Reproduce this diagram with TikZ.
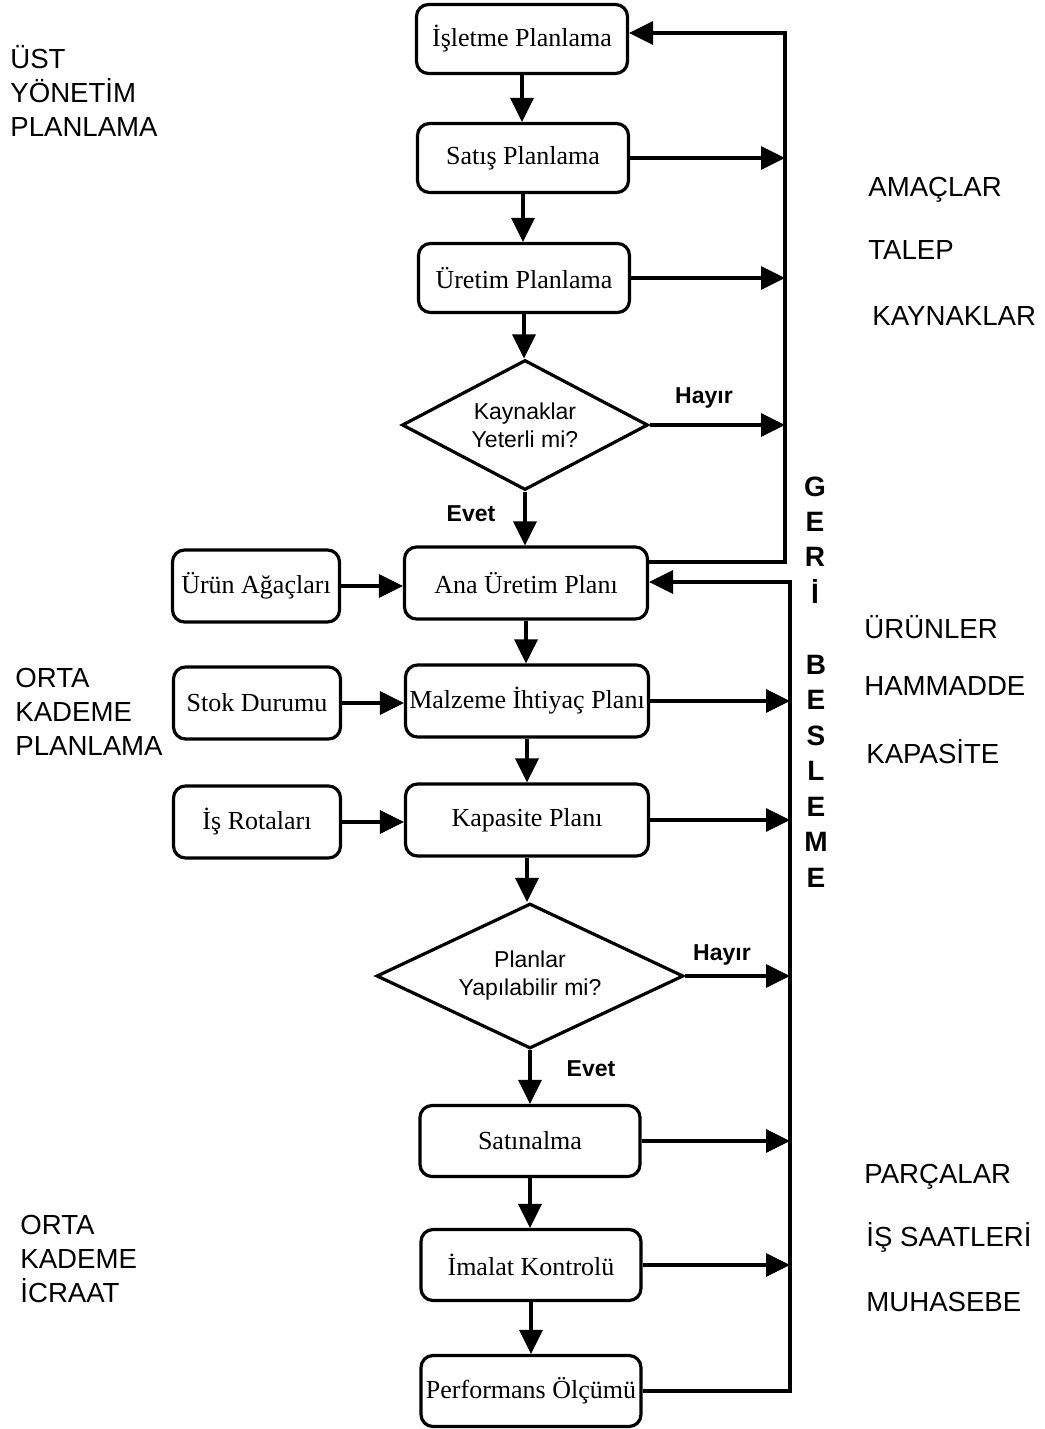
\documentclass[tikz,border=0pt]{standalone}
\usepackage{fontspec}
\setmainfont{Liberation Serif}
\setsansfont{Liberation Sans}
\usetikzlibrary{shapes.geometric,arrows.meta}

\tikzset{
  plan/.style={draw, line width=1.6pt, rounded corners=6pt, inner sep=1pt,
    font=\fontsize{13}{15}\selectfont},
  ust/.style={plan, minimum width=105.5pt, minimum height=34.5pt},
  orta/.style={plan, minimum width=121.5pt, minimum height=36pt},
  alt/.style={plan, minimum width=110pt, minimum height=35.5pt},
  girdi/.style={plan, minimum width=83.5pt, minimum height=36pt},
  karar/.style={draw, diamond, line width=1.6pt, inner sep=0pt, align=center,
    font=\sffamily\fontsize{11.5}{14}\selectfont},
  ok/.style={line width=1.6pt, -{Triangle[length=12pt,width=11.5pt]}},
  etiket/.style={font=\sffamily\bfseries\fontsize{11.5}{14}\selectfont},
  yan/.style={font=\sffamily\fontsize{13.8}{17}\selectfont, anchor=west,
    inner sep=0pt, align=left},
  dikey/.style={font=\sffamily\bfseries\fontsize{14}{16}\selectfont, inner sep=0pt},
}

\begin{document}
\begin{tikzpicture}[x=0.5pt,y=-0.5pt]
\useasboundingbox (0,0) rectangle (1044,1429);

% ana akis
\node[ust] (isletme) at (522,39) {İşletme Planlama};
\node[ust] (satis) at (523,158) {Satış Planlama};
\node[ust] (uretim) at (524,278) {Üretim Planlama};
\node[karar, aspect=1.9, minimum width=123pt, minimum height=65pt] (kaynak) at (525,425) {Kaynaklar\\Yeterli mi?};
\node[orta] (ana) at (526,583) {Ana Üretim Planı};
\node[orta] (malzeme) at (527,701) {Malzeme İhtiyaç Planı};
\node[orta] (kapasite) at (527,820) {Kapasite Planı};
\node[karar, aspect=2.1, minimum width=153.5pt, minimum height=72.5pt] (yapilabilir) at (530,976) {Planlar\\Yapılabilir mi?};
\node[alt] (satin) at (530,1141) {Satınalma};
\node[alt] (imalat) at (531,1265) {İmalat Kontrolü};
\node[alt] (perf) at (531,1391) {Performans Ölçümü};

% girdiler
\node[girdi] (agac) at (256,586) {Ürün Ağaçları};
\node[girdi] (stok) at (257,703) {Stok Durumu};
\node[girdi] (rota) at (257,822) {İş Rotaları};

% geri besleme hatlari
\coordinate (ustuc) at (785,33);
\coordinate (ustdip) at (785,562);
\coordinate (altuc) at (790,582);

% dikey oklar
\draw[ok] (isletme.south) -- (isletme.south |- satis.north);
\draw[ok] (satis.south) -- (satis.south |- uretim.north);
\draw[ok] (uretim.south) -- (uretim.south |- kaynak.north);
\draw[ok] (kaynak.south) -- (kaynak.south |- ana.north);
\draw[ok] (ana.south) -- (ana.south |- malzeme.north);
\draw[ok] (malzeme.south) -- (malzeme.south |- kapasite.north);
\draw[ok] (kapasite.south) -- (kapasite.south |- yapilabilir.north);
\draw[ok] (yapilabilir.south) -- (yapilabilir.south |- satin.north);
\draw[ok] (satin.south) -- (satin.south |- imalat.north);
\draw[ok] (imalat.south) -- (imalat.south |- perf.north);

% girdi oklari
\draw[ok] (agac.east) -- (agac.east -| ana.west);
\draw[ok] (stok.east) -- (stok.east -| malzeme.west);
\draw[ok] (rota.east) -- (rota.east -| kapasite.west);

% ust dongu
\draw[ok] (satis.east) -- (satis.east -| ustuc);
\draw[ok] (uretim.east) -- (uretim.east -| ustuc);
\draw[ok] (kaynak.east) -- (kaynak.east -| ustuc);
\draw[ok] (ana.east |- ustdip) -- (ustdip) -- (ustuc) -- (isletme.east |- ustuc);

% alt dongu
\draw[ok] (malzeme.east) -- (malzeme.east -| altuc);
\draw[ok] (kapasite.east) -- (kapasite.east -| altuc);
\draw[ok] (yapilabilir.east) -- (yapilabilir.east -| altuc);
\draw[ok] (satin.east) -- (satin.east -| altuc);
\draw[ok] (imalat.east) -- (imalat.east -| altuc);
\draw[ok] (perf.east) -- (perf.east -| altuc) -- (altuc) -- (ana.east |- altuc);

% karar etiketleri
\node[etiket] (hayir1) at (704,398) {Hayır};
\node[etiket] (evet1) at (471,514) {Evet};
\node[etiket] (hayir2) at (722,955) {Hayır};
\node[etiket] (evet2) at (591,1069) {Evet};

% kademeler
\node[yan] (kademe1) at (10,91) {ÜST\\YÖNETİM\\PLANLAMA};
\node[yan] (kademe2) at (15,712) {ORTA\\KADEME\\PLANLAMA};
\node[yan] (kademe3) at (20,1259) {ORTA\\KADEME\\İCRAAT};

% sag etiketler
\node[yan] (amac) at (868,190) {AMAÇLAR};
\node[yan] (talep) at (868,250) {TALEP};
\node[yan] (kaynaklar) at (872,316) {KAYNAKLAR};
\node[yan] (urunler) at (864,627) {ÜRÜNLER};
\node[yan] (hammadde) at (864,686) {HAMMADDE};
\node[yan] (kapasiteler) at (866,752) {KAPASİTE};
\node[yan] (parca) at (864,1177) {PARÇALAR};
\node[yan] (saat) at (866,1237) {İŞ SAATLERİ};
\node[yan] (muhasebe) at (866,1302) {MUHASEBE};

% geri besleme yazisi
\foreach \harf [count=\k] in {G,E,R,İ}
  \node[dikey] (geri\k) at (815,452+35*\k) {\harf};
\foreach \harf [count=\k] in {B,E,S,L,E,M,E}
  \node[dikey] (besle\k) at (816,629+35.5*\k) {\harf};
\end{tikzpicture}
\end{document}
